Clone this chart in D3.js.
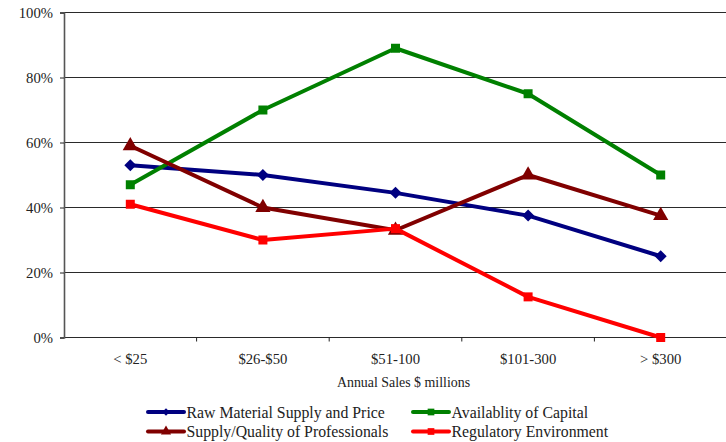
<!DOCTYPE html>
<html>
<head>
<meta charset="utf-8">
<script src="https://cdn.jsdelivr.net/npm/d3@7"></script>
<style>
  html, body { margin: 0; padding: 0; background: #fff; }
  svg { display: block; }
  text { font-family: "Liberation Serif", serif; fill: #222; }
</style>
</head>
<body>
<svg id="chart" width="726" height="442"></svg>
<script>
// Sales bands (x axis)
const categories = ["< $25", "$26-$50", "$51-100", "$101-300", "> $300"];

// Share of respondents citing each factor (%)
const rawMaterial   = [53, 50, 44.5, 37.5, 25];
const capital       = [47, 70, 89, 75, 50];
const professionals = [59, 40, 33, 50, 37.5];
const regulatory    = [41, 30, 33.5, 12.5, 0];

const seriesNames  = ["Raw Material Supply and Price", "Availablity of Capital",
                      "Supply/Quality of Professionals", "Regulatory Environment"];
const yTicks = [0, 20, 40, 60, 80, 100];
const xTitle = "Annual Sales $ millions";

const series = [
  { name: seriesNames[0], values: rawMaterial,   color: "#000080", marker: "diamond" },
  { name: seriesNames[1], values: capital,       color: "#008000", marker: "square" },
  { name: seriesNames[2], values: professionals, color: "#800000", marker: "triangle" },
  { name: seriesNames[3], values: regulatory,    color: "#ff0000", marker: "square" }
];

const svg = d3.select("#chart");
const plotLeft = 64, plotRight = 727, plotTop = 12.5, plotBottom = 337.5;
const serif = "'Liberation Serif', serif";

const x = d3.scaleBand().domain(categories).range([plotLeft, plotRight]);
const y = d3.scaleLinear().domain([0, 100]).range([plotBottom, plotTop]);

// Horizontal gridlines
svg.append("g")
  .selectAll("line")
  .data(yTicks)
  .join("line")
  .attr("x1", plotLeft).attr("x2", 726)
  .attr("y1", d => y(d)).attr("y2", d => y(d))
  .attr("stroke", "#2a2a2a").attr("stroke-width", 1.2);

// Y axis
const yAxis = svg.append("g")
  .attr("transform", `translate(${plotLeft},0)`)
  .call(d3.axisLeft(y).tickValues(yTicks).tickFormat(d => d + "%").tickSize(4).tickPadding(7));
yAxis.attr("font-family", null);
yAxis.select(".domain").attr("stroke", "#555").attr("stroke-width", 1.6);
yAxis.selectAll(".tick line").attr("stroke", "#222");
yAxis.selectAll("text").style("font-size", "14.7px").style("font-family", serif).attr("fill", "#222");

// X axis
const xAxis = svg.append("g")
  .attr("transform", `translate(0,${plotBottom})`)
  .call(d3.axisBottom(x).tickSize(0).tickPadding(16));
xAxis.attr("font-family", null);
xAxis.select(".domain").remove();
xAxis.selectAll("text").style("font-size", "14.7px").style("font-family", serif).attr("fill", "#222");

// category separators on the x axis
svg.append("g")
  .selectAll("line")
  .data(categories.map((c, i) => plotLeft + x.step() * (i + 1)))
  .join("line")
  .attr("x1", d => d).attr("x2", d => d)
  .attr("y1", plotBottom).attr("y2", plotBottom + 4)
  .attr("stroke", "#222");

svg.append("text")
  .attr("x", (plotLeft + plotRight) / 2 + 8).attr("y", 387)
  .attr("text-anchor", "middle")
  .style("font-size", "13.9px")
  .style("font-family", serif)
  .text(xTitle);

const cx = c => x(c) + x.bandwidth() / 2;

const symbolFor = m => {
  if (m === "diamond") return d3.symbol().type(d3.symbolSquare).size(72)();
  if (m === "triangle") return d3.symbol().type(d3.symbolTriangle).size(100)();
  return d3.symbol().type(d3.symbolSquare).size(81)();
};

const line = d3.line().x((d, i) => cx(categories[i])).y(d => y(d));

series.forEach(s => {
  const g = svg.append("g");
  g.append("path")
    .datum(s.values)
    .attr("d", line)
    .attr("fill", "none")
    .attr("stroke", s.color)
    .attr("stroke-width", 4)
    .attr("stroke-linejoin", "round");
  g.selectAll("path.mk")
    .data(s.values)
    .join("path")
    .attr("class", "mk")
    .attr("d", symbolFor(s.marker))
    .attr("transform", (d, i) => `translate(${cx(categories[i])},${y(d)})` + (s.marker === "diamond" ? " rotate(45)" : ""))
    .attr("fill", s.color);
});

// Legend
const legendPos = [
  { x: 148, y: 412 }, { x: 413, y: 412 },
  { x: 148, y: 431.5 }, { x: 413, y: 431.5 }
];
series.forEach((s, i) => {
  const p = legendPos[i];
  const g = svg.append("g").attr("transform", `translate(${p.x},${p.y})`);
  g.append("line").attr("x1", 0).attr("x2", 36).attr("y1", 0).attr("y2", 0)
    .attr("stroke", s.color).attr("stroke-width", 4).attr("stroke-linecap", "round");
  const sym = s.marker === "diamond" ? d3.symbol().type(d3.symbolSquare).size(28)()
            : s.marker === "triangle" ? d3.symbol().type(d3.symbolTriangle).size(45)()
            : d3.symbol().type(d3.symbolSquare).size(45)();
  g.append("path").attr("d", sym)
    .attr("transform", `translate(18,0)` + (s.marker === "diamond" ? " rotate(45)" : ""))
    .attr("fill", s.color);
  g.append("text").attr("x", 38.5).attr("y", 5.5)
    .style("font-size", "15.8px")
    .style("font-family", serif)
    .text(s.name);
});
</script>
</body>
</html>
